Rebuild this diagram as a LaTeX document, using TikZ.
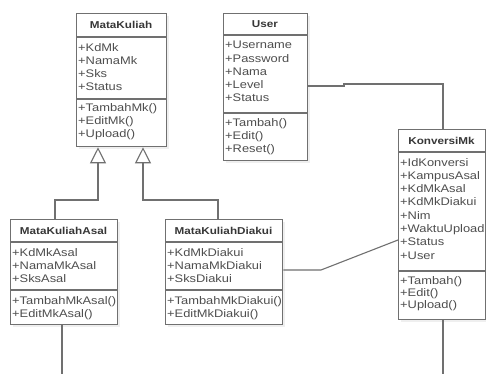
\documentclass[tikz,border=0pt]{standalone}
\usepackage{fontspec}
\setmainfont{Liberation Sans}[FakeStretch=1.17]
\usetikzlibrary{arrows.meta,shadows,calc}

\definecolor{umlline}{RGB}{112,112,112}
\definecolor{umltext}{RGB}{78,78,78}
\definecolor{umltitle}{RGB}{55,55,55}

\tikzset{
  classbox/.style={draw=umlline, line width=1.3pt, fill=white, inner sep=0pt,
    drop shadow={opacity=0.12, shadow xshift=2pt, shadow yshift=-2pt}},
  divider/.style={draw=umlline, line width=1.1pt},
  classtitle/.style={font=\fontsize{10}{12}\selectfont\bfseries, text=umltitle, inner sep=0pt},
  member/.style={font=\fontsize{11}{13}\selectfont, text=umltext, inner sep=0pt, anchor=base west},
  link/.style={draw=umlline, line width=1.1pt},
  generalize/.style={link, -{Triangle[open, length=16pt, width=16pt, line width=1.1pt]}},
}

% class box: name, left, top, right, header bottom, divider, bottom, title
\newcommand\umlclass[8]{%
  \node[classbox, anchor=north west, minimum width={(#4-#2)*1pt},
        minimum height={(#7-#3)*1pt}] (#1) at (#2,#3) {};
  \draw[divider] (#1.west |- 0,#5) -- (#1.east |- 0,#5);
  \draw[divider] (#1.west |- 0,#6) -- (#1.east |- 0,#6);
  \node[classtitle] (#1-title) at ({(#2+#4)/2},{(#3+#5)/2}) {#8};
}
% member rows: name prefix, x, first baseline, step, list
\newcommand\umlrows[5]{%
  \foreach \row [count=\i] in {#5} {
    \node[member] (#1-\i) at (#2,{#3+(\i-1)*#4}) {\row};
  }
}

\begin{document}
\begin{tikzpicture}[x=1pt,y=-1pt]
  \fill[white] (0,0) rectangle (486,374);
  \useasboundingbox (0,0) rectangle (486,374);

  % classes
  \umlclass{mk}{76}{13}{166}{37}{99}{146}{MataKuliah}
  \umlrows{mk-a}{78}{52}{12.7}{+KdMk,+NamaMk,+Sks,+Status}
  \umlrows{mk-o}{78}{112}{12.5}{+TambahMk(),+EditMk(),+Upload()}

  \umlclass{user}{223}{13}{307}{35}{113}{160}{User}
  \umlrows{user-a}{225}{49}{13.2}{+Username,+Password,+Nama,+Level,+Status}
  \umlrows{user-o}{225}{127}{12.5}{+Tambah(),+Edit(),+Reset()}

  \umlclass{konv}{398}{129}{485}{152}{271}{319}{KonversiMk}
  \umlrows{konv-a}{400}{166}{13.3}{+IdKonversi,+KampusAsal,+KdMkAsal,+KdMkDiakui,+Nim,+WaktuUpload,+Status,+User}
  \umlrows{konv-o}{400}{284}{12}{+Tambah(),+Edit(),+Upload()}

  \umlclass{asal}{10}{219}{117}{242}{290}{324}{MataKuliahAsal}
  \umlrows{asal-a}{12}{256}{13}{+KdMkAsal,+NamaMkAsal,+SksAsal}
  \umlrows{asal-o}{12}{304}{13}{+TambahMkAsal(),+EditMkAsal()}

  \umlclass{diakui}{165}{219}{282}{242}{290}{324}{MataKuliahDiakui}
  \umlrows{diakui-a}{167}{256}{13}{+KdMkDiakui,+NamaMkDiakui,+SksDiakui}
  \umlrows{diakui-o}{167}{304}{13}{+TambahMkDiakui(),+EditMkDiakui()}

  % bend points and free ends
  \coordinate (ga) at (55,200);
  \coordinate (gb) at (98,200);
  \coordinate (gc) at (143,200);
  \coordinate (gd) at (218,200);
  \coordinate (uj) at (344,86);
  \coordinate (kt) at (443,84);
  \coordinate (dk) at (321,270);
  \coordinate (asal-end) at (62,374);
  \coordinate (konv-end) at (443,374);

  % generalizations
  \draw[generalize] (asal.north -| ga) |- (gb) -- (mk.south -| gb);
  \draw[generalize] (diakui.north -| gd) |- (gc) -- (mk.south -| gc);

  % associations
  \draw[link] (user.east |- uj) -- (uj) -- (uj |- kt) -| (konv.north -| kt);
  \draw[link] (diakui.east |- dk) -- (dk) -- (konv.west |- 0,240);
  \draw[link] (asal.south -| asal-end) -- (asal-end);
  \draw[link] (konv.south -| konv-end) -- (konv-end);
\end{tikzpicture}
\end{document}
